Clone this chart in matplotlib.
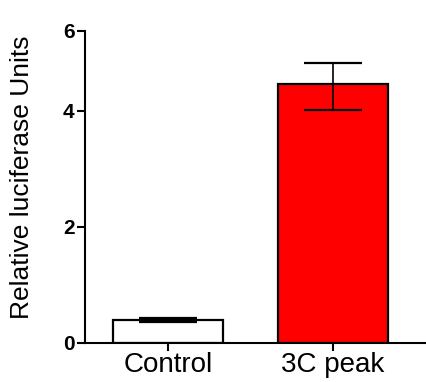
#!/usr/bin/env python3

import numpy as np
import matplotlib
matplotlib.use("Agg")
import matplotlib.pyplot as plt

groups = ["Control", "3C peak"]
means = [0.40, 4.68]
err_low = [0.03, 0.65]
err_high = [0.03, 0.52]
bar_colors = ["white", "#FF0000"]
y_ticks = [0, 2, 4, 6]

# the upper part of the axis (4-6) is drawn compressed in the original
K = 80 / 116


def fwd(y):
    y = np.asarray(y, dtype=float)
    return np.where(y <= 4, y, 4 + (y - 4) * K)


def inv(y):
    y = np.asarray(y, dtype=float)
    return np.where(y <= 4, y, 4 + (y - 4) / K)


plt.rcParams['font.family'] = ['Liberation Sans', 'DejaVu Sans']

fig = plt.figure(figsize=(4.26, 3.82), dpi=100)
ax = fig.add_axes([85 / 426, 39 / 382, 1 - 85 / 426, 312 / 382])

x = np.arange(len(groups))
ax.bar(x, means, width=0.667, color=bar_colors, edgecolor="black", linewidth=1.6, zorder=2)
ax.errorbar(x, means, yerr=[err_low, err_high], fmt="none", ecolor="black",
            elinewidth=1.2, capsize=21, capthick=1.6, zorder=3)

ax.set_yscale("function", functions=(fwd, inv))
ax.set_ylim(0, 6)
ax.set_xlim(-0.503, 1.564)
ax.set_yticks(y_ticks)
ax.set_yticklabels([str(t) for t in y_ticks], fontsize=15, fontweight="bold")
ax.set_xticks(x)
ax.set_xticklabels(groups, fontsize=20)
ax.set_ylabel("Relative luciferase Units", fontsize=19)
ax.yaxis.set_label_coords(-0.15, 0.53)

for side in ["top", "right"]:
    ax.spines[side].set_visible(False)
for side in ["left", "bottom"]:
    ax.spines[side].set_linewidth(1.5)
ax.tick_params(axis="both", width=1.5, length=5.5)
ax.tick_params(axis="y", pad=2)
ax.tick_params(axis="x", pad=1)

fig.savefig("out.png", dpi=100)
